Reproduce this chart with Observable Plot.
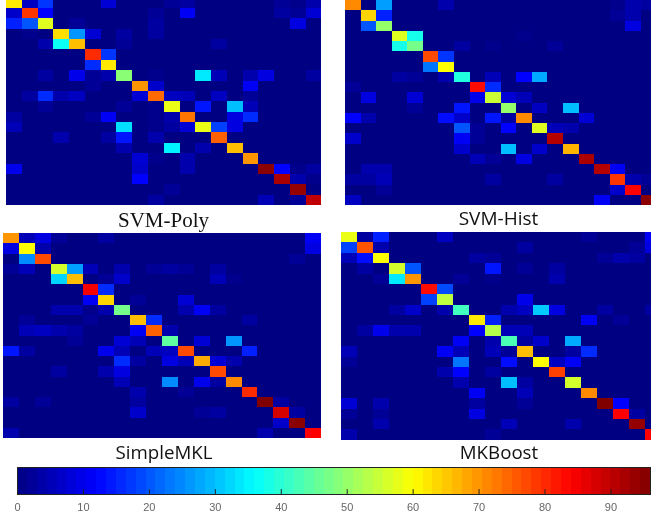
<!DOCTYPE html>
<html>
<head>
<meta charset="utf-8">
<script src="https://cdn.jsdelivr.net/npm/d3@7"></script>
<script src="https://cdn.jsdelivr.net/npm/@observablehq/plot@0.6"></script>
<style>
  html, body { margin: 0; padding: 0; background: #fff; width: 651px; height: 521px; overflow: hidden; }
  .panel { position: absolute; overflow: hidden; }
  .panel svg { filter: blur(0.5px); background: #000082; }
  .label { position: absolute; transform: translateX(-50%); white-space: nowrap; color: #111; line-height: 1; filter: blur(0.3px); }
  #bar { position: absolute; left: 0; top: 460px; filter: blur(0.3px); }
</style>
</head>
<body>
<div id="root"></div>
<script>
// Each row lists its non-zero cells as {column: percent}; every other cell is 0.
const classes = d3.range(20);

const svmPoly = [
  {0:62,1:6,2:17,6:8,10:2,11:3,17:2,18:1,19:4},
  {0:7,1:79,2:12,9:2,11:11,17:3,18:2,19:8},
  {0:15,1:20,2:57,4:2,9:3,18:9},
  {1:1,3:63,4:26,5:8,7:3,9:3},
  {2:4,3:37,4:66,7:2,13:3},
  {5:80,6:17},
  {5:16,6:62},
  {2:3,4:10,5:2,6:4,7:49,9:1,12:34,13:5,15:4,16:9,19:3},
  {5:2,8:70,9:7,15:11},
  {1:3,2:16,3:4,4:6,8:8,9:74,10:6,11:5,13:6,15:2},
  {2:2,7:2,9:1,10:58,12:14,14:30,15:5},
  {0:3,5:2,6:11,9:1,10:4,11:73,14:9,15:16},
  {0:5,7:33,9:1,10:3,11:8,12:58,13:18,14:9},
  {3:4,6:3,7:14,9:4,13:75},
  {7:4,10:35,12:4,14:66},
  {8:8,9:1,11:4,15:70},
  {0:10,8:7,11:4,16:95,17:12,18:1,19:3},
  {8:12,17:92,18:4,19:1},
  {10:2,18:94},
  {9:3,16:5,18:2,19:90}
];

const svmHist = [
  {0:71,2:27,6:4,17:1,18:4,19:3},
  {1:64,2:15,17:2,18:4},
  {1:20,2:50,18:9},
  {3:57,4:38,11:1},
  {3:38,4:47,7:3,9:1,13:2},
  {5:77,6:17},
  {5:23,6:60},
  {3:3,4:2,6:4,7:39,9:5,11:12,12:28},
  {0:2,8:83,9:16},
  {1:9,4:8,8:10,9:55,10:8,11:5},
  {4:2,7:14,10:50,12:6,14:30},
  {0:12,1:4,6:13,7:7,9:14,10:3,11:71,15:8},
  {7:20,8:2,10:12,12:57,13:5,14:4},
  {0:7,7:11,8:2,13:91},
  {7:7,10:30,12:7,14:67},
  {8:5,9:2,11:9,15:92},
  {1:4,2:4,16:91,17:11},
  {0:3,1:3,2:5,9:3,13:3,17:79,18:4,19:2},
  {2:2,17:7,18:84},
  {0:6,16:11,19:95}
];

const simpleMKL = [
  {0:70,1:5,2:9,3:2,6:3,19:11},
  {0:9,1:60,2:4,19:9},
  {1:25,2:77,18:2},
  {0:2,1:5,3:56,4:27,5:5,7:4,9:2,10:3,11:2,13:3},
  {3:32,4:66,6:2,7:7,13:5,14:1},
  {5:85,6:16},
  {5:11,6:64,8:2,11:8},
  {3:4,4:4,5:1,6:4,7:47,11:4,12:11,13:3},
  {1:2,5:2,8:66,9:16,15:3},
  {1:5,2:6,3:4,4:3,8:11,9:75,10:4},
  {4:2,7:8,8:5,10:45,12:8,14:26},
  {0:14,1:3,6:10,7:5,9:5,10:6,11:77,15:15},
  {7:16,8:3,10:9,11:5,12:68,13:8,14:4},
  {3:3,6:4,7:9,13:77},
  {7:5,10:25,12:10,13:3,14:71},
  {8:4,11:2,15:80},
  {0:3,2:2,8:3,16:96,17:3},
  {8:7,12:2,13:3,17:88,18:3},
  {17:7,18:95},
  {0:4,16:4,19:84}
];

const mkBoost = [
  {0:58,1:3,2:15,6:6,15:2,19:11},
  {0:18,1:76,2:4,11:3,18:2,19:9},
  {0:5,1:13,2:60,8:3,9:2,16:2,17:4,18:3},
  {1:3,3:56,4:20,9:14,11:2,13:3},
  {2:2,3:34,4:70,7:2,9:1,13:4},
  {5:83,6:19},
  {5:18,6:54,11:10},
  {3:3,4:7,6:4,7:42,10:4,11:6,12:31,13:9,16:3,19:3},
  {8:62,9:15,15:11,17:2},
  {1:3,2:10,3:4,4:4,8:12,9:53,10:5,11:5},
  {7:11,9:4,10:43,11:3,12:7,14:28},
  {0:5,6:11,7:5,9:5,10:2,11:66,14:3,15:16},
  {0:2,7:23,10:13,12:60,13:6,14:11},
  {6:4,7:12,9:3,13:78},
  {7:4,10:30,11:3,14:56},
  {8:11,11:5,15:71},
  {0:8,2:4,8:3,11:2,16:96,17:12},
  {0:2,2:2,8:9,17:84,18:3},
  {2:4,10:5,14:4,18:94},
  {0:4,9:2,19:84}
];

const jetDomain = [0, 12, 36, 60, 84, 96];
const jetRange = ["#000082", "#0000ff", "#00ffff", "#ffff00", "#ff0000", "#800000"];
const colorScale = {type: "linear", domain: jetDomain, range: jetRange, interpolate: "rgb"};

const barTicks = [0, 10, 20, 30, 40, 50, 60, 70, 80, 90];
const barMax = 96;
const barStep = 1.5;
const barLevels = d3.range(0, barMax, barStep);

const panels = [
  {name: "SVM-Poly", rows: svmPoly, left: 5.5, top: 0, w: 315.5, h: 205, xr: [0, 315.5], yr: [-2.4, 205],
   label: {x: 163.5, y: 209.5, font: "'Liberation Serif', serif", size: 21}},
  {name: "SVM-Hist", rows: svmHist, left: 344.5, top: 0, w: 306.5, h: 205, xr: [0, 311.5], yr: [0, 205],
   label: {x: 498.5, y: 209, font: "'Open Sans', sans-serif", size: 19}},
  {name: "SimpleMKL", rows: simpleMKL, left: 3, top: 233.3, w: 318, h: 205, xr: [0, 318], yr: [0, 205],
   label: {x: 164, y: 443, font: "'Open Sans', sans-serif", size: 18.7}},
  {name: "MKBoost", rows: mkBoost, left: 341, top: 232.3, w: 310, h: 207.7, xr: [0, 320], yr: [0, 207.7],
   label: {x: 499, y: 443, font: "'Open Sans', sans-serif", size: 18.7}}
];

const root = document.getElementById("root");
for (const p of panels) {
  const cells = classes.flatMap(r => classes.map(c => ({r, c, v: p.rows[r][c] || 0})));
  const div = document.createElement("div");
  div.className = "panel";
  div.style.cssText = `left:${p.left}px;top:${p.top}px;width:${p.w}px;height:${p.h}px`;
  div.append(Plot.plot({
    width: p.w, height: p.h,
    margin: 0,
    x: {type: "band", domain: classes, range: p.xr, padding: 0, round: false, axis: null},
    y: {type: "band", domain: classes, range: p.yr, padding: 0, round: false, axis: null},
    color: colorScale,
    marks: [Plot.cell(cells, {x: "c", y: "r", fill: "v", shapeRendering: "crispEdges"})]
  }));
  root.append(div);

  const lab = document.createElement("div");
  lab.className = "label";
  lab.textContent = p.name;
  lab.style.cssText = `left:${p.label.x}px;top:${p.label.y}px;font-family:${p.label.font};font-size:${p.label.size}px`;
  root.append(lab);
}

const barDiv = document.createElement("div");
barDiv.id = "bar";
barDiv.append(Plot.plot({
  width: 651, height: 61,
  marginTop: 7, marginBottom: 27, marginLeft: 17, marginRight: 1,
  style: {fontFamily: "'Liberation Sans', sans-serif", fontSize: "11px", color: "#666"},
  x: {domain: [0, barMax]},
  y: {domain: [0, 1], axis: null},
  color: colorScale,
  marks: [
    Plot.rect(barLevels, {x1: d => d, x2: d => d + barStep, y1: 0, y2: 1, fill: d => d + barStep / 2, shapeRendering: "crispEdges"}),
    Plot.ruleX(barTicks, {x: d => d, y1: 0, y2: 0.18, stroke: "#222"}),
    Plot.frame({stroke: "#222"}),
    Plot.axisX(barTicks, {anchor: "bottom", tickSize: 0, tickPadding: 9, tickFormat: d => d, fill: "#666", fontSize: 11})
  ]
}));
root.append(barDiv);
</script>
</body>
</html>
